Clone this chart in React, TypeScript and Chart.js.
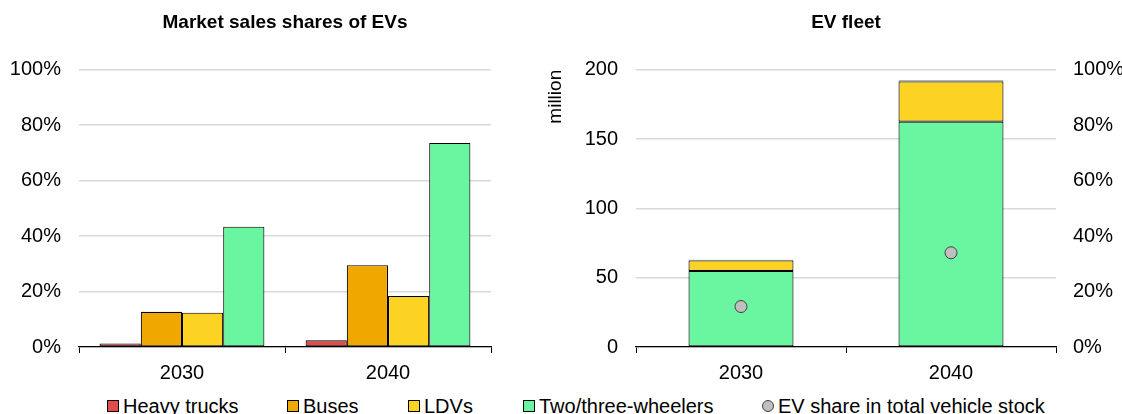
import React, { useEffect, useRef } from 'react';
import { Chart, registerables } from 'chart.js';

Chart.register(...registerables);

const FONT = "'Liberation Sans', Arial, sans-serif";

// ---- data ----
const categories = ['2030', '2040'];
const seriesNames = ['Heavy trucks', 'Buses', 'LDVs', 'Two/three-wheelers'];
const shareName = 'EV share in total vehicle stock';

// Market sales shares of EVs (%)
const salesHeavyTrucks = [1.3, 2.4];
const salesBuses = [12.7, 29.5];
const salesLDVs = [12.4, 18.4];
const salesTwoThree = [43.4, 73.6];

// EV fleet (million)
const fleetTwoThree = [54.9, 162.6];
const fleetLDVs = [7.6, 29.0];
const fleetBuses = [0.3, 0.5];
const fleetHeavyTrucks = [0.2, 0.3];

// EV share in total vehicle stock (%)
const evShareStock = [14.6, 34.0];

const leftTicks = [0, 20, 40, 60, 80, 100];
const fleetTicks = [0, 50, 100, 150, 200];

const RED = '#E34B4B';
const ORANGE = '#F0A800';
const YELLOW = '#FDD323';
const GREEN = '#6AF5A1';
const GRAY = '#BFBFBF';
const seriesColors = [RED, ORANGE, YELLOW, GREEN];

// legend item left edges (layout only)
const legendLefts = [107, 287, 408, 523, 762];

const tickFont = { size: 20, family: FONT };

export default function App() {
  const leftRef = useRef<HTMLCanvasElement>(null);
  const rightRef = useRef<HTMLCanvasElement>(null);

  useEffect(() => {
    const barCommon = {
      borderColor: '#000',
      borderWidth: 1.1,
      borderSkipped: false,
    };

    const xAxis = {
      z: 1,
      grid: {
        display: true,
        drawOnChartArea: false,
        drawTicks: true,
        tickLength: 6,
        color: '#000',
        lineWidth: 1,
        offset: true,
      },
      border: { display: true, color: '#000', width: 1.3 },
      ticks: { padding: 8, color: '#000', font: tickFont },
      afterFit: (s: any) => {
        s.height = 43;
      },
    };

    const c1 = new Chart(leftRef.current!, {
      type: 'bar',
      data: {
        labels: categories,
        datasets: [
          { label: seriesNames[0], data: salesHeavyTrucks, backgroundColor: RED, ...barCommon },
          { label: seriesNames[1], data: salesBuses, backgroundColor: ORANGE, ...barCommon },
          { label: seriesNames[2], data: salesLDVs, backgroundColor: YELLOW, ...barCommon },
          { label: seriesNames[3], data: salesTwoThree, backgroundColor: GREEN, ...barCommon },
        ] as any,
      },
      options: {
        animation: false,
        responsive: false,
        layout: { padding: { left: 0, right: 29, top: 0, bottom: 0 } },
        datasets: { bar: { categoryPercentage: 0.8, barPercentage: 1 } },
        plugins: {
          legend: { display: false },
          tooltip: { enabled: false },
          title: {
            display: true,
            text: 'Market sales shares of EVs',
            fullSize: false,
            color: '#000',
            font: { size: 19, weight: 'bold', family: FONT },
            padding: { top: 11, bottom: 36 },
          },
        },
        scales: {
          x: xAxis as any,
          y: {
            min: 0,
            max: 100,
            afterBuildTicks: (s: any) => {
              s.ticks = leftTicks.map((v) => ({ value: v }));
            },
            ticks: {
              padding: 18,
              color: '#000',
              font: tickFont,
              callback: (v: any) => `${v}%`,
            },
            grid: { color: '#d9d9d9', lineWidth: 1.5, drawTicks: false },
            border: { display: false },
            afterFit: (s: any) => {
              s.width = 79;
            },
          },
        },
      } as any,
    });

    const c2 = new Chart(rightRef.current!, {
      type: 'bar',
      data: {
        labels: categories,
        datasets: [
          {
            type: 'line',
            label: shareName,
            data: evShareStock,
            yAxisID: 'y1',
            showLine: false,
            pointRadius: 6,
            pointBackgroundColor: GRAY,
            pointBorderColor: '#404040',
            pointBorderWidth: 1,
            order: 0,
          },
          { label: seriesNames[3], data: fleetTwoThree, backgroundColor: GREEN, order: 1, ...barCommon },
          { label: seriesNames[2], data: fleetLDVs, backgroundColor: YELLOW, order: 1, ...barCommon },
          { label: seriesNames[1], data: fleetBuses, backgroundColor: ORANGE, order: 1, ...barCommon },
          { label: seriesNames[0], data: fleetHeavyTrucks, backgroundColor: RED, order: 1, ...barCommon },
        ] as any,
      },
      options: {
        animation: false,
        responsive: false,
        layout: { padding: { left: 0, right: 0, top: 0, bottom: 0 } },
        datasets: { bar: { categoryPercentage: 1, barPercentage: 0.5 } },
        plugins: {
          legend: { display: false },
          tooltip: { enabled: false },
          title: {
            display: true,
            text: 'EV fleet',
            fullSize: false,
            color: '#000',
            font: { size: 19, weight: 'bold', family: FONT },
            padding: { top: 11, bottom: 36 },
          },
        },
        scales: {
          x: { ...xAxis, stacked: true } as any,
          y: {
            stacked: true,
            min: 0,
            max: 200,
            afterBuildTicks: (s: any) => {
              s.ticks = fleetTicks.map((v) => ({ value: v }));
            },
            ticks: { padding: 18, color: '#000', font: tickFont },
            grid: { color: '#d9d9d9', lineWidth: 1.5, drawTicks: false },
            border: { display: false },
            title: {
              display: true,
              text: 'million',
              align: 'end',
              color: '#000',
              font: { size: 19, family: FONT },
              padding: { top: 14, bottom: 0 },
            },
            afterFit: (s: any) => {
              s.width = 106;
            },
          },
          y1: {
            position: 'right',
            min: 0,
            max: 100,
            afterBuildTicks: (s: any) => {
              s.ticks = leftTicks.map((v) => ({ value: v }));
            },
            ticks: {
              padding: 17,
              color: '#000',
              font: tickFont,
              callback: (v: any) => `${v}%`,
            },
            grid: { display: false, drawTicks: false },
            border: { display: false },
            afterFit: (s: any) => {
              s.width = 66;
            },
          },
        },
      } as any,
    });

    return () => {
      c1.destroy();
      c2.destroy();
    };
  }, []);

  const legendItems = [
    ...seriesNames.map((n, i) => ({ label: n, color: seriesColors[i], round: false })),
    { label: shareName, color: GRAY, round: true },
  ];

  return (
    <div
      style={{
        position: 'absolute',
        left: 0,
        top: 0,
        width: 1122,
        height: 414,
        overflow: 'hidden',
        background: '#fff',
        fontFamily: FONT,
      }}
    >
      <canvas
        ref={leftRef}
        width={520}
        height={390}
        style={{ position: 'absolute', left: 0, top: 0, width: 520, height: 390 }}
      />
      <canvas
        ref={rightRef}
        width={592}
        height={390}
        style={{ position: 'absolute', left: 530, top: 0, width: 592, height: 390 }}
      />
      {legendItems.map((it, i) => (
        <div
          key={it.label}
          style={{
            position: 'absolute',
            left: legendLefts[i],
            top: 394,
            display: 'flex',
            alignItems: 'center',
            fontSize: 20,
            lineHeight: '24px',
            color: '#000',
            whiteSpace: 'nowrap',
          }}
        >
          <span
            style={{
              display: 'inline-block',
              width: 10,
              height: 10,
              background: it.color,
              border: `1px solid ${it.round ? '#404040' : '#000'}`,
              borderRadius: it.round ? '50%' : 0,
              marginRight: 4,
            }}
          />
          <span>{it.label}</span>
        </div>
      ))}
    </div>
  );
}
